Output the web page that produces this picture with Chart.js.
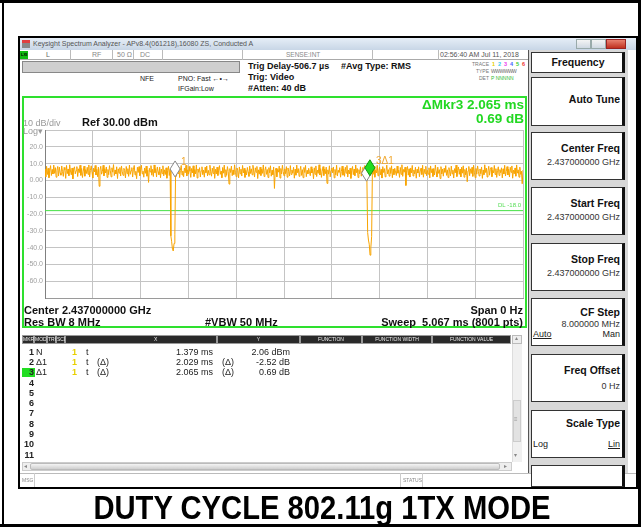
<!DOCTYPE html>
<html><head><meta charset="utf-8">
<script src="https://cdn.jsdelivr.net/npm/chart.js@4.4.1/dist/chart.umd.min.js"></script>
<style>
body{margin:0;width:641px;height:527px;position:relative;overflow:hidden;background:#fff;font-family:"Liberation Sans",Arial,sans-serif;color:#111;}
.a{position:absolute;white-space:nowrap;box-sizing:border-box;}
</style></head><body>
<script>
// ---------------- DATA ----------------
const sweepMs = 5.067;            // sweep time (x axis span, ms)
const refLevel = 30;              // top of screen, dBm
const bottomLevel = -70;          // bottom of screen, dBm
const dbPerDiv = 10;
const timeDivisions = 10;
const displayLine = -18;          // green display line, dBm
const yTickLabels = ['', '20.0', '10.0', '0.00', '-10.0', '-20.0', '-30.0', '-40.0', '-50.0', '-60.0', ''];
// trace levels (dBm), evenly spaced over the sweep
const traceLevels = [
 6.8, 2.1, 8.4, 3.5, 7.2, 1.6, 5.9, 8.8, 2.9, 6.5, 3.8, 9.1, 4.2, 7.6, 1.9, 6.1, 8.3, 2.6, 7.9, 4.5,
 3.1, 8.6, 5.2, 2.4, 7.7, 6.3, 1.2, 8.9, 4.0, 6.8, 2.8, 9.3, 5.6, 3.3, 7.4, 0.9, 6.7, 8.1, 3.9, 5.8,
 8.2, 2.3, 6.9, 4.6, 9.0, 3.0, 7.1, 1.7, 5.5, 8.5, 2.5, 6.4, 4.1, 7.8, 3.6, 9.2, 2.0, 6.0, 8.7, 4.8,
 1.4, 7.3, 5.0, 8.9, 3.2, 6.6, 2.2, 7.9, -3.5, 6.2, 8.4, 3.7, 5.3, 9.0, 2.7, 7.0, 4.4, 8.0, 1.8, 6.5,
 3.4, 8.8, 5.7, 2.1, 7.5, 4.9, 9.4, 2.9, 6.2, 3.8, 8.1, 1.1, 6.9, 4.3, 7.7, 2.6, 8.6, 5.1, 3.0, 7.2,
 6.0, 1.5, 8.3, 4.0, 7.0, 2.4, 9.1, 3.6, 5.8, 7.6, 2.0, 6.7, 8.9, 3.3, 5.4, 1.0, 7.8, 4.7, 8.2, 2.8,
 6.4, 9.0, 3.9, 5.5, 1.9, 7.4, 4.2, 8.5, 2.5, 6.1, -1.2, 7.2, 5.0, 8.8, 3.1, 6.6, 2.3, 9.2, 4.6, 7.0,
 2.0, 8.0, 5.2, 3.4, 7.9, 1.6, 6.8, 4.0, 8.7, 2.7, 6.3, 3.5, 7.5, 1.3, 5.9, 8.4, 2.9, 6.6, -33.0, -36.5,
 -41.0, -42.0, -37.5, -32.0, 8.2, 2.4, 6.9, 4.1, 7.8, 1.7, 6.0, 8.9, 3.2, 5.6, 2.2, 7.4, 4.5, 9.0, 2.6, 6.3,
 3.7, 8.3, 5.4, 1.8, 7.1, 4.4, 8.7, 2.3, 6.5, 3.9, 9.2, 1.4, 6.8, 4.8, 7.6, 2.0, 5.7, 8.1, 3.4, 6.2,
 1.9, 7.8, 4.6, 8.6, 2.7, 6.0, 3.3, 9.0, 5.1, 2.5, 7.3, 4.1, 8.4, 1.2, 6.6, 3.8, 7.9, 2.9, 6.1, 8.8,
 3.6, 5.5, 1.6, 7.7, 4.3, 9.1, 2.1, 6.4, 3.0, 8.2, 5.3, -2.2, 7.0, 4.7, 8.5, 2.8, 6.2, 3.5, 9.3, 4.9,
 2.2, 7.4, 5.8, 1.5, 8.0, 3.9, 6.7, 2.6, 8.9, 4.4, 7.2, 1.8, 6.0, 3.2, 7.7, 5.0, 2.4, 8.6, 4.1, 6.9,
 3.3, 9.0, 5.6, 2.0, 7.5, 4.8, 8.3, 1.1, 6.3, 3.7, 7.9, 2.9, 6.8, 4.2, 9.2, 2.3, 5.9, 8.1, 3.6, 6.5,
 1.7, 7.6, 4.5, 8.7, 2.5, 6.1, 3.4, 8.0, -4.8, 5.7, 7.3, 2.1, 6.6, 4.9, 8.5, 1.4, 7.1, 3.8, 9.0, 5.2,
 2.7, 6.9, 4.0, 8.2, 1.9, 7.4, 5.3, 2.6, 8.8, 3.5, 6.2, 4.3, 7.8, 1.3, 6.7, 3.1, 9.1, 4.6, 7.0, 2.4,
 5.8, 8.4, 3.0, 6.4, 1.6, 7.7, 4.7, 8.9, 2.2, 6.0, 3.9, 7.2, 5.1, 2.8, 8.1, 4.4, 6.6, 1.0, 7.5, 3.6,
 8.6, 2.3, 6.1, 4.2, 9.3, 3.2, 7.0, 1.8, 5.5, 8.2, 2.9, 6.8, 4.0, 7.9, -1.8, 6.3, 3.7, 8.7, 2.1, 5.9,
 7.4, 4.5, 8.0, 1.5, 6.5, 3.3, 9.0, 2.6, 6.0, 4.8, 7.6, 1.9, 5.4, 8.5, 3.1, 6.9, 2.4, 7.8, 4.3, 8.9,
 2.0, 6.2, 3.8, 7.3, 1.2, 5.7, 8.3, 3.4, 6.7, 2.8, 9.2, 4.6, 7.1, 1.7, 6.4, 3.9, 8.1, 2.5, 5.6, 7.7,
 3.0, 8.8, 4.9, 6.3, 2.2, -31.0, -35.5, -38.0, -44.5, -40.0, -33.5, 7.5, 3.6, 8.4, 1.9, 6.1, 4.4, 9.0, 2.7, 5.8,
 7.9, 3.3, 6.6, 1.4, 8.2, 4.7, 7.0, 2.1, 5.5, 9.1, 3.8, 6.4, 2.5, 7.6, 4.1, 8.7, 1.6, 6.8, 3.4, 7.2,
 5.0, 2.9, 8.5, 4.3, 6.1, 1.8, 7.7, 3.6, 9.3, 2.4, 6.5, 4.9, 7.9, -3.0, 5.8, 8.3, 3.1, 6.9, 2.0, 7.4,
 4.5, 8.9, 2.6, 6.2, 3.9, 7.8, 1.3, 6.6, 4.4, 8.1, 2.2, 5.6, 7.3, 3.5, 9.0, 1.9, 6.7, 4.0, 8.4, 2.8,
 6.0, 3.7, 7.5, 1.5, 8.6, 4.6, 6.9, 2.3, 7.1, 3.2, 9.2, 5.3, 2.0, 7.9, 4.2, 6.4, 1.1, 8.2, 3.8, 6.8,
 2.5, 7.2, 4.8, 8.8, 3.0, 6.3, 1.7, 7.6, 5.1, 2.7, 8.5, 3.9, 6.1, 1.4, 7.0, 4.5, 9.1, 2.3, 5.9, 8.0,
 3.6, 6.7, 2.1, 7.9, 4.3, 8.7, 1.9, 6.5, 3.3, 7.4, -0.8, 5.7, 8.3, 2.8, 6.9, 4.1, 7.8, 2.4, 9.0, 4.9,
 1.6, 7.1, 3.7, 8.6, 5.4, 2.6, 6.8, 4.0, 8.0, 1.2, 6.2, 3.4, 9.3, 4.7, 7.3, 2.0, 5.6, 8.4, 3.1, 6.6,
 7.7, 2.2, 6.0, 4.4, 8.9, 3.5, 7.0, 1.8, 5.8, 8.1, 2.9, 6.4, 4.6, 7.5, 1.5, 6.9, 3.8, 9.0, 2.6, 5.3,
 8.2, 3.2, 6.7, 2.0, 7.8, 4.8, 8.6, 1.3, 6.1, 3.9, 7.4, 2.5, 9.2, 4.3, 6.3, 1.9, 7.9, 3.6, 5.5, -2.0,
 6.2
];
// markers
const markerNames  = ['1', '', '3\u03941'];
const markerTimes  = [1.379, 3.408, 3.444];   // ms (2 = 1 + 2.029, 3 = 1 + 2.065)
const markerLevels = [2.06, -0.46, 2.75];     // dBm (2 = 1 - 2.52, 3 = 1 + 0.69)
const markerFill   = ['#ffffff', '#ffffff', '#22dd22'];
const markerStroke = ['#888888', '#888888', '#119911'];
// marker table
const tableRows = [
 ['1', 'N', '1', 't', '', '1.379 ms', '', '2.06 dBm'],
 ['2', '\u03941', '1', 't', '(\u0394)', '2.029 ms', '(\u0394)', '-2.52 dB'],
 ['3', '\u03941', '1', 't', '(\u0394)', '2.065 ms', '(\u0394)', '0.69 dB'],
 ['4'], ['5'], ['6'], ['7'], ['8'], ['9'], ['10'], ['11']
];

// ---------------- HELPERS ----------------
function box(x, y, w, h, css) {
  const d = document.createElement('div'); d.className = 'a';
  d.style.cssText += `left:${x}px;top:${y}px;width:${w}px;height:${h}px;` + (css || '');
  document.body.appendChild(d); return d;
}
function txt(x, yc, s, size, css, align) {
  const d = document.createElement('div'); d.className = 'a'; d.textContent = s;
  d.style.cssText += `top:${(yc - size * 0.6).toFixed(1)}px;left:${x}px;font-size:${size}px;line-height:${(size * 1.2).toFixed(1)}px;` + (css || '');
  if (align === 'r') d.style.transform = 'translateX(-100%)';
  if (align === 'c') d.style.transform = 'translateX(-50%)';
  document.body.appendChild(d); return d;
}

// ---------------- PAGE FRAME ----------------
box(0, 0, 641, 3, 'background:#000');
box(2, 0, 2, 527, 'background:#000');
box(0, 524, 641, 3, 'background:#000');
box(638, 0, 3, 527, 'background:#000');

// analyzer window
box(18, 36, 620, 453, 'border:2px solid #000;background:#fff');
// title bar
box(20, 38, 616, 12, 'background:linear-gradient(#e6eef7,#c8d6e6)');
box(22, 40, 8, 8, 'background:linear-gradient(#e04040 0 40%,#888 40% 100%)');
txt(33, 44.5, 'Keysight Spectrum Analyzer - APv8.4(061218),16080 ZS, Conducted A', 7, 'color:#555');
box(576, 39, 15, 10, 'background:linear-gradient(#f4f4f4,#cfd8e2);border:1px solid #9aa');
box(591, 39, 15, 10, 'background:linear-gradient(#f4f4f4,#cfd8e2);border:1px solid #9aa');
box(606, 39, 20, 10, 'background:linear-gradient(#e88070,#c03020);border:1px solid #922');
// status row
box(20, 50, 508, 10, 'background:#fff;border-bottom:1px solid #aaa');
box(20, 51, 8, 8, 'background:#11bb11');
txt(21, 55, 'LXI', 4, 'color:#000;font-weight:bold');
[70, 112, 133, 162, 242, 372, 438].forEach(x => box(x, 50, 1, 10, 'background:#bbb'));
txt(46, 55, 'L', 7, 'color:#666');
txt(92, 55, 'RF', 7, 'color:#888');
txt(117, 55, '50 \u03a9', 7, 'color:#888');
txt(140, 55, 'DC', 7, 'color:#888');
txt(286, 55, 'SENSE:INT', 6.5, 'color:#888');
txt(440, 55, '02:56:40 AM Jul 11, 2018', 7, 'color:#555');
// grey bar + info
box(22, 61, 218, 12, 'background:#cfcfcf;border:1px solid #888');
txt(140, 79, 'NFE', 7, 'color:#222');
txt(178, 79, 'PNO: Fast \u2190\u2022\u2192', 7, 'color:#222');
txt(178, 89, 'IFGain:Low', 7, 'color:#222');
txt(248, 66, 'Trig Delay-506.7 \u00b5s', 9, 'font-weight:bold');
txt(248, 77, 'Trig: Video', 9, 'font-weight:bold');
txt(248, 88, '#Atten: 40 dB', 9, 'font-weight:bold');
txt(341, 66, '#Avg Type: RMS', 9, 'font-weight:bold');
txt(489, 64, 'TRACE', 5, 'color:#777', 'r');
txt(489, 71, 'TYPE', 5, 'color:#777', 'r');
txt(489, 78, 'DET', 5, 'color:#777', 'r');
const trColors = ['#e8d000', '#33ccee', '#ee44ee', '#4466ff', '#33cc33', '#ee3333'];
trColors.forEach((c, i) => { txt(492 + i * 6, 64, String(i + 1), 5.5, 'font-weight:bold;color:' + c); });
txt(491, 71, 'WWWWWW', 5, 'color:#666;letter-spacing:-0.5px');
txt(491, 78, 'P NNNNN', 5, 'color:#33bb33');

// ---------------- PLOT ----------------
const cv = document.createElement('canvas');
cv.width = 505; cv.height = 231;
cv.className = 'a'; cv.style.left = '22px'; cv.style.top = '96px';
document.body.appendChild(cv);
box(22, 96, 505, 232, 'border:2px solid #2ee02e;pointer-events:none');

txt(524, 105, '\u0394Mkr3 2.065 ms', 13.5, 'font-weight:bold;color:#22d822', 'r');
txt(524, 119, '0.69 dB', 13.5, 'font-weight:bold;color:#22d822', 'r');
txt(23, 123, '10 dB/div', 9, 'color:#999');
txt(23, 131, 'Log\u25be', 9, 'color:#999');
txt(82, 123, 'Ref 30.00 dBm', 11, 'font-weight:bold');
txt(24, 311, 'Center 2.437000000 GHz', 11, 'font-weight:bold');
txt(24, 323, 'Res BW 8 MHz', 11, 'font-weight:bold');
txt(205, 323, '#VBW 50 MHz', 11, 'font-weight:bold');
txt(523, 311, 'Span 0 Hz', 11, 'font-weight:bold', 'r');
txt(523, 323, 'Sweep  5.067 ms (8001 pts)', 11, 'font-weight:bold;white-space:pre', 'r');

const markerPlugin = {
  id: 'markers',
  afterDatasetsDraw(chart) {
    const { ctx, scales: { x, y } } = chart;
    ctx.save();
    markerTimes.forEach((t, i) => {
      const px = x.getPixelForValue(t), py = y.getPixelForValue(markerLevels[i]);
      ctx.beginPath();
      ctx.moveTo(px, py - 16); ctx.lineTo(px + 5, py - 8); ctx.lineTo(px, py); ctx.lineTo(px - 5, py - 8); ctx.closePath();
      ctx.fillStyle = markerFill[i]; ctx.fill();
      ctx.lineWidth = 1; ctx.strokeStyle = markerStroke[i]; ctx.stroke();
      if (markerNames[i]) {
        ctx.font = '10px "Liberation Sans", Arial, sans-serif';
        ctx.fillStyle = '#f0a830'; ctx.textBaseline = 'middle'; ctx.textAlign = 'left';
        ctx.fillText(markerNames[i], px + 6, py - 15);
      }
    });
    const dy = y.getPixelForValue(displayLine);
    ctx.font = '6px "Liberation Sans", Arial, sans-serif';
    ctx.fillStyle = '#55dd55'; ctx.textAlign = 'right'; ctx.textBaseline = 'bottom';
    ctx.fillText('DL -18.0', x.right - 2, dy - 2);
    ctx.restore();
  }
};

new Chart(cv, {
  type: 'line',
  data: {
    datasets: [
      {
        data: traceLevels.map((v, i) => ({ x: i * sweepMs / (traceLevels.length - 1), y: v })),
        borderColor: '#f8a400', borderWidth: 1, pointRadius: 0, tension: 0, order: 1
      },
      {
        data: [{ x: 0, y: displayLine }, { x: sweepMs, y: displayLine }],
        borderColor: '#44e044', borderWidth: 1, pointRadius: 0, order: 2
      }
    ]
  },
  options: {
    responsive: false, animation: false, devicePixelRatio: 1,
    layout: { padding: { top: 34, bottom: 29, left: 0, right: 4 } },
    plugins: { legend: { display: false }, tooltip: { enabled: false } },
    scales: {
      x: {
        type: 'linear', min: 0, max: sweepMs,
        afterBuildTicks: s => { s.ticks = Array.from({ length: timeDivisions + 1 }, (_, i) => ({ value: i * sweepMs / timeDivisions })); },
        afterFit: s => { s.height = 0; },
        ticks: { display: false },
        grid: { color: '#c4c4c4', lineWidth: 1, drawTicks: false },
        border: { color: '#9a9a9a', width: 1 }
      },
      y: {
        min: bottomLevel, max: refLevel,
        afterBuildTicks: s => { s.ticks = yTickLabels.map((_, i) => ({ value: refLevel - i * dbPerDiv })); },
        afterFit: s => { s.width = 23; },
        ticks: {
          callback: (v, i) => yTickLabels[i],
          color: '#a0a0a0', font: { size: 7, family: '"Liberation Sans", Arial, sans-serif' }, padding: 2
        },
        grid: { color: '#c4c4c4', lineWidth: 1, drawTicks: false },
        border: { color: '#808080', width: 1 }
      }
    }
  },
  plugins: [markerPlugin]
});

// ---------------- MARKER TABLE ----------------
const hdr = [[22, 12, 'MKR', 0], [34, 13, 'MODE', 0], [47, 9, 'TRC', 0], [56, 9, 'SCL', 0], [65, 152, 'X', 88], [217, 83, 'Y', 0], [300, 62, 'FUNCTION', 0], [362, 70, 'FUNCTION WIDTH', 0], [432, 79, 'FUNCTION VALUE', 0]];
hdr.forEach(h => {
  const d = box(h[0], 335, h[1], 9, 'background:#2a2a2a;border:1px solid #999;color:#eee;font-size:5px;line-height:7px;' + (h[3] ? `text-align:left;padding-left:${h[3]}px` : 'text-align:center'));
  d.textContent = h[2];
});
box(512, 335, 10, 9, 'background:#eee;border:1px solid #bbb');
txt(515, 339, '\u25b4', 6, 'color:#888');
tableRows.forEach((r, i) => {
  const yc = 352 + i * 10.3;
  if (i === 2) box(22, yc - 4.5, 13, 9, 'background:#22dd22');
  txt(34, yc, r[0], 9, 'font-weight:bold;color:#222', 'r');
  if (r.length > 1) {
    txt(36, yc, r[1], 9, 'color:#222');
    txt(72, yc, r[2], 9, 'color:#e8d000;font-weight:bold');
    txt(86, yc, r[3], 9, 'color:#222');
    if (r[4]) txt(97, yc, r[4], 9, 'color:#222');
    txt(213, yc, r[5], 9, 'color:#222', 'r');
    if (r[6]) txt(222, yc, r[6], 9, 'color:#222');
    txt(290, yc, r[7], 9, 'color:#222', 'r');
  }
});
// scrollbars
box(512, 344, 10, 118, 'background:#f0f0f0;border-left:1px solid #ddd');
box(513, 400, 8, 42, 'background:#e2e2e2;border:1px solid #ccc');
txt(514, 420, '\u2261', 6, 'color:#999');
txt(514, 456, '\u25be', 6, 'color:#888');
box(22, 462, 490, 9, 'background:#eee;border:1px solid #ccc');
box(30, 463, 470, 7, 'background:linear-gradient(#f4f4f4,#cfcfcf);border:1px solid #bbb;border-radius:2px');
txt(24, 466.5, '\u25c2', 6, 'color:#888');
txt(504, 466.5, '\u25b8', 6, 'color:#888');
// msg bar
box(20, 473, 616, 14, 'background:#fff;border-top:1px solid #bbb');
box(34, 473, 1, 14, 'background:#ccc');
box(400, 473, 1, 14, 'background:#ccc');
box(422, 473, 1, 14, 'background:#ccc');
txt(22, 480, 'MSG', 5, 'color:#888');
txt(403, 480, 'STATUS', 5, 'color:#888');

// ---------------- SOFTKEYS ----------------
box(528, 50, 100, 423, 'background:#d8d8d8;border-left:1px solid #555');
const softkeys = [
  { y: 52, h: 21, label: 'Frequency' },
  { y: 77, h: 49, label: 'Auto Tune' },
  { y: 132, h: 48, label: 'Center Freq', value: '2.437000000 GHz' },
  { y: 187, h: 48, label: 'Start Freq', value: '2.437000000 GHz' },
  { y: 243, h: 48, label: 'Stop Freq', value: '2.437000000 GHz' },
  { y: 298, h: 48, label: 'CF Step', value: '8.000000 MHz', sub: ['Auto', 'Man'] },
  { y: 354, h: 48, label: 'Freq Offset', value: '0 Hz' },
  { y: 410, h: 48, label: 'Scale Type', sub: ['Log', 'Lin'] },
  { y: 465, h: 22 }
];
softkeys.forEach((k, i) => {
  box(531, k.y, 94, k.h, 'background:#fff;border:1px solid #333;border-right:3px solid #111');
  if (!k.label) return;
  if (i === 0) { txt(578, k.y + 10.5, k.label, 10.5, 'font-weight:bold', 'c'); return; }
  if (i === 1) { txt(620, k.y + 22, k.label, 10.5, 'font-weight:bold', 'r'); return; }
  if (k.sub && k.value) {
    txt(620, k.y + 14, k.label, 10.5, 'font-weight:bold', 'r');
    txt(620, k.y + 26, k.value, 9, 'color:#333', 'r');
    txt(533, k.y + 36, k.sub[0], 9, 'color:#222;text-decoration:underline');
    txt(620, k.y + 36, k.sub[1], 9, 'color:#222', 'r');
  } else if (k.sub) {
    txt(620, k.y + 13, k.label, 10.5, 'font-weight:bold', 'r');
    txt(533, k.y + 34, k.sub[0], 9, 'color:#222');
    txt(620, k.y + 34, k.sub[1], 9, 'color:#222;text-decoration:underline', 'r');
  } else {
    txt(620, k.y + 16, k.label, 10.5, 'font-weight:bold', 'r');
    txt(620, k.y + (k.label === 'Freq Offset' ? 32 : 30), k.value, 9, 'color:#333', 'r');
  }
});

// ---------------- CAPTION ----------------
txt(322, 508, 'DUTY CYCLE 802.11g 1TX MODE', 33, 'font-weight:bold;color:#000;transform:translateX(-50%) scaleX(0.885)');
</script>
</body></html>
